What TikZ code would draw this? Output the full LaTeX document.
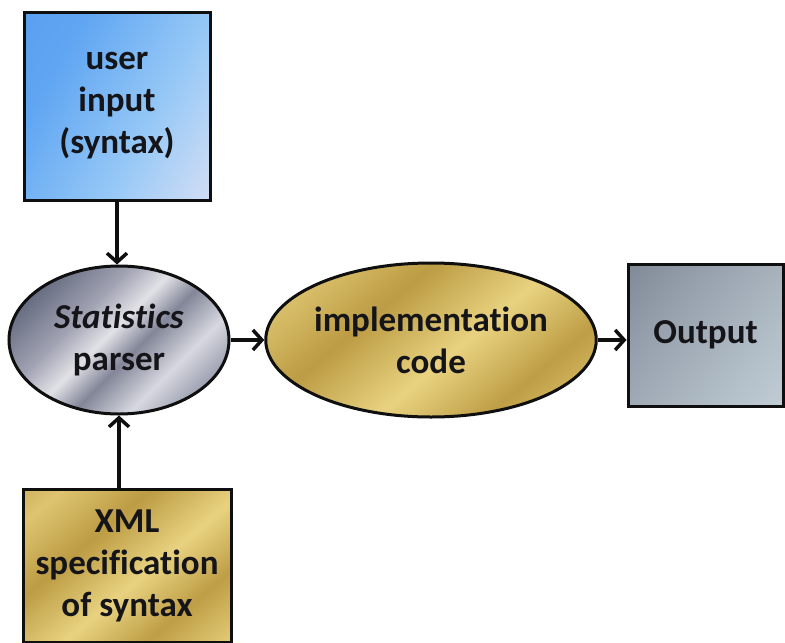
\documentclass[tikz,border=0pt]{standalone}
\usepackage{fontspec}
\setmainfont{Carlito}[Ligatures=NoCommon]
\usetikzlibrary{shapes.geometric, arrows.meta}

\definecolor{boxline}{RGB}{15,15,15}
\definecolor{inktext}{RGB}{20,20,25}
\pgfdeclarehorizontalshading{skyblue}{100bp}{color(0bp)=(rgb,255:red,85;green,155;blue,240); color(30bp)=(rgb,255:red,95;green,165;blue,242); color(60bp)=(rgb,255:red,150;green,200;blue,246); color(80bp)=(rgb,255:red,200;green,218;blue,245); color(100bp)=(rgb,255:red,242;green,228;blue,240)}
\pgfdeclarehorizontalshading{steel}{100bp}{color(0bp)=(rgb,255:red,95;green,100;blue,122); color(25bp)=(rgb,255:red,105;green,110;blue,130); color(38bp)=(rgb,255:red,160;green,162;blue,178); color(47bp)=(rgb,255:red,225;green,225;blue,230); color(55bp)=(rgb,255:red,130;green,134;blue,152); color(66bp)=(rgb,255:red,215;green,216;blue,224); color(78bp)=(rgb,255:red,140;green,144;blue,162); color(100bp)=(rgb,255:red,110;green,115;blue,135)}
\pgfdeclarehorizontalshading{gold}{100bp}{color(0bp)=(rgb,255:red,178;green,145;blue,58); color(22bp)=(rgb,255:red,222;green,196;blue,112); color(38bp)=(rgb,255:red,188;green,156;blue,68); color(55bp)=(rgb,255:red,232;green,210;blue,128); color(70bp)=(rgb,255:red,190;green,158;blue,70); color(85bp)=(rgb,255:red,226;green,202;blue,118); color(100bp)=(rgb,255:red,180;green,148;blue,60)}
\pgfdeclarehorizontalshading{slate}{100bp}{color(0bp)=(rgb,255:red,112;green,122;blue,136); color(35bp)=(rgb,255:red,150;green,160;blue,172); color(70bp)=(rgb,255:red,180;green,192;blue,202); color(100bp)=(rgb,255:red,205;green,215;blue,222)}

\tikzset{
    block/.style={rectangle, draw=boxline, line width=3pt, align=center, text=inktext,
        font=\fontsize{35}{42}\selectfont\bfseries},
    oval/.style={ellipse, draw=boxline, line width=3pt, align=center, text=inktext,
        inner sep=0pt, font=\fontsize{35}{42}\selectfont\bfseries},
    flow/.style={draw=boxline, line width=3.5pt, -{Straight Barb[length=9pt, width=20pt, line width=3.5pt]}}
}

\begin{document}
\begin{tikzpicture}[x=1pt, y=-1pt]
\useasboundingbox (0,0) rectangle (785,643);
\clip (0,0) rectangle (785,643);

\node[block, shading=skyblue, shading angle=-30, minimum width=186pt, minimum height=188pt]
    (userin) at (117,106) {user\\input\\(syntax)};

\node[oval, shading=steel, shading angle=-45, minimum width=220pt, minimum height=148pt]
    (parser) at (119,340) {\textit{Statistics}\\parser};

\node[oval, shading=gold, shading angle=-50, minimum width=303pt, minimum height=154pt]
    (impl) at (431,340) {implementation\\code};

\node[block, shading=slate, shading angle=-40, minimum width=155pt, minimum height=142pt]
    (output) at (705.5,335) {Output};

\node[block, shading=gold, shading angle=-50, minimum width=208pt, minimum height=153pt]
    (xmlspec) at (127,565.5) {XML\\specification\\of syntax};

\draw[flow] (userin.south) -- (userin.south |- parser.north);
\draw[flow] (parser.east) -- (impl.west);
\draw[flow] (impl.east) -- (impl.east -| output.west);
\draw[flow] (xmlspec.north -| parser.south) -- (parser.south);
\end{tikzpicture}
\end{document}
